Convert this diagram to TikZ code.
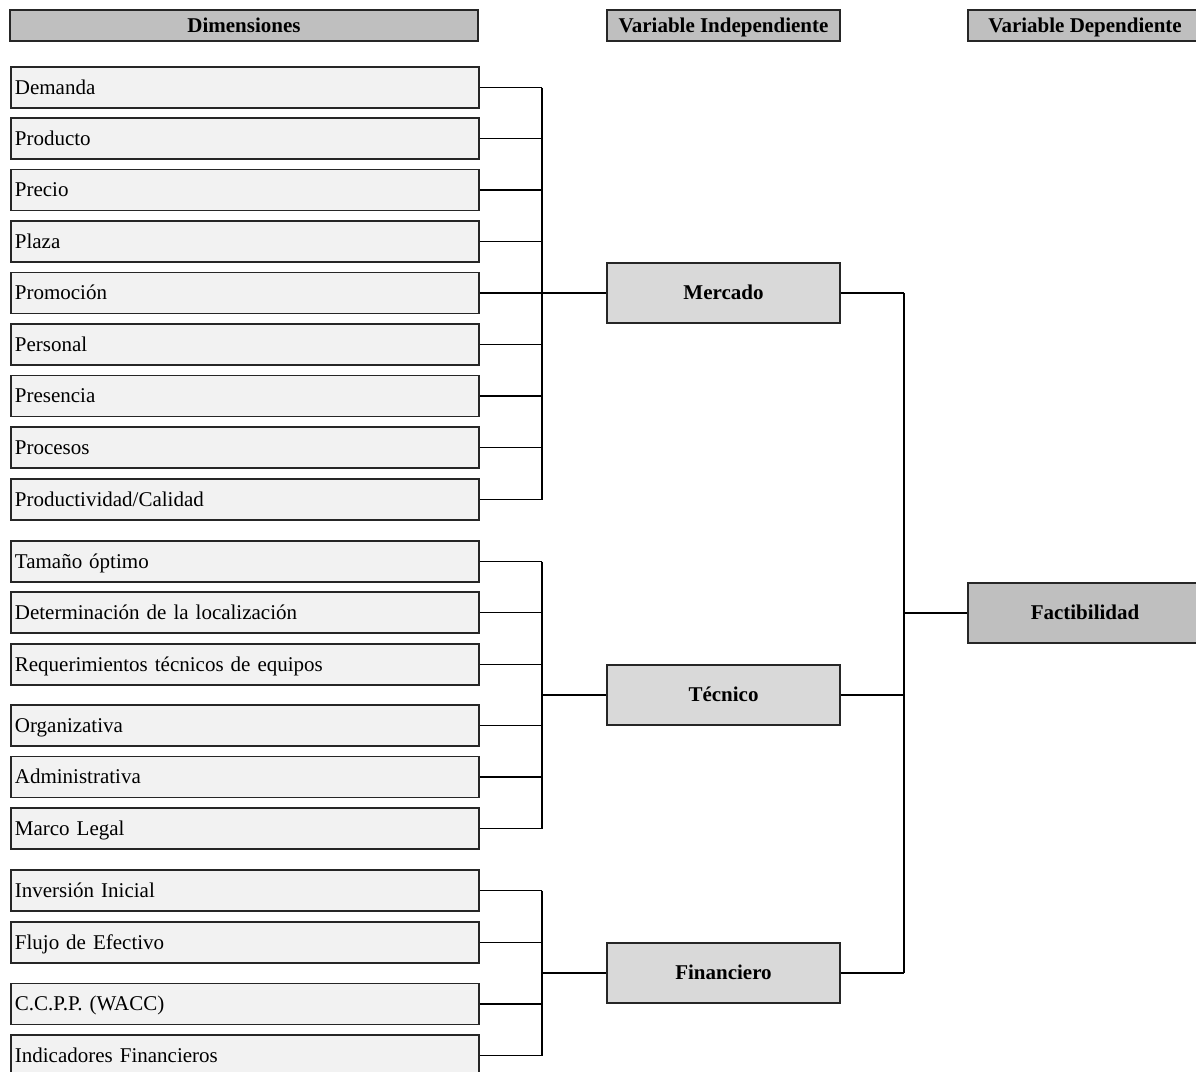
\documentclass[tikz,border=0pt]{standalone}
\usepackage{fontspec}
\setmainfont{Liberation Serif}
\definecolor{hdr}{HTML}{BFBFBF}
\definecolor{itm}{HTML}{F2F2F2}
\definecolor{mid}{HTML}{D9D9D9}
\definecolor{brd}{HTML}{262626}
\begin{document}
\begin{tikzpicture}[x=1pt,y=-1pt,
  every node/.style={font=\fontsize{21}{24}\selectfont,text height=18.5pt,text depth=5pt},
  hdrbox/.style={draw=brd,line width=1.8pt,fill=hdr,minimum height=31pt,inner sep=0pt,font=\fontsize{21}{24}\selectfont\bfseries},
  itembox/.style={draw=brd,line width=1.8pt,fill=itm,minimum height=41pt,text width=460pt,inner xsep=4pt,inner ysep=0pt,align=left,anchor=west},
  midbox/.style={draw=brd,line width=1.8pt,fill=mid,minimum width=233pt,minimum height=60pt,inner sep=0pt,font=\fontsize{21}{24}\selectfont\bfseries},
  depbox/.style={draw=brd,line width=1.8pt,fill=hdr,minimum width=234pt,minimum height=60pt,inner sep=0pt,font=\fontsize{21}{24}\selectfont\bfseries},
  conn/.style={draw=black,line width=1.5pt}]
\useasboundingbox (0,0) rectangle (1196,1071);
\fill[white] (0,0) rectangle (1196,1071);
% headers
\node[hdrbox,minimum width=468pt] (hdim) at (244,25.5) {Dimensiones};
\node[hdrbox,minimum width=233pt] (hind) at (723.5,25.5) {Variable Independiente};
\node[hdrbox,minimum width=234pt] (hdep) at (1085,25.5) {Variable Dependiente};
% items
\foreach \n/\y/\t in {1/87.5/Demanda,2/138.5/Producto,3/190/Precio,4/241.5/Plaza,5/293/Promoción,6/344.5/Personal,7/396/Presencia,8/447.5/Procesos,9/499.5/Productividad\slash Calidad,10/561.5/Tamaño óptimo,11/612.5/Determinación de la localización,12/664.5/Requerimientos técnicos de equipos,13/725.5/Organizativa,14/777/Administrativa,15/828.5/Marco Legal,16/890.5/Inversión Inicial,17/942.5/Flujo de Efectivo,18/1004/C.C.P.P. (WACC),19/1055.5/Indicadores Financieros}
  \node[itembox] (d\n) at (10,\y) {\t};
% middle
\node[midbox] (mer) at (723.5,293) {Mercado};
\node[midbox] (tec) at (723.5,695) {Técnico};
\node[midbox] (fin) at (723.5,973) {Financiero};
\node[depbox] (fac) at (1085,613) {Factibilidad};
% bus coordinates
\coordinate (bM) at (542,293);
\coordinate (bT) at (542,695);
\coordinate (bF) at (542,973);
\coordinate (bR) at (904,613);
% Mercado group
\foreach \n in {1,...,9} \draw[conn] (d\n.east) -- (d\n.east -| bM);
\draw[conn] (d1.east -| bM) -- (d9.east -| bM);
\draw[conn] (bM) -- (mer.west);
% Tecnico group
\foreach \n in {10,...,15} \draw[conn] (d\n.east) -- (d\n.east -| bT);
\draw[conn] (d10.east -| bT) -- (d15.east -| bT);
\draw[conn] (bT) -- (tec.west);
% Financiero group
\foreach \n in {16,...,19} \draw[conn] (d\n.east) -- (d\n.east -| bF);
\draw[conn] (d16.east -| bF) -- (d19.east -| bF);
\draw[conn] (bF) -- (fin.west);
% right side
\draw[conn] (mer.east) -- (mer.east -| bR);
\draw[conn] (tec.east) -- (tec.east -| bR);
\draw[conn] (fin.east) -- (fin.east -| bR);
\draw[conn] (mer.east -| bR) -- (fin.east -| bR);
\draw[conn] (bR) -- (fac.west);
\end{tikzpicture}
\end{document}
